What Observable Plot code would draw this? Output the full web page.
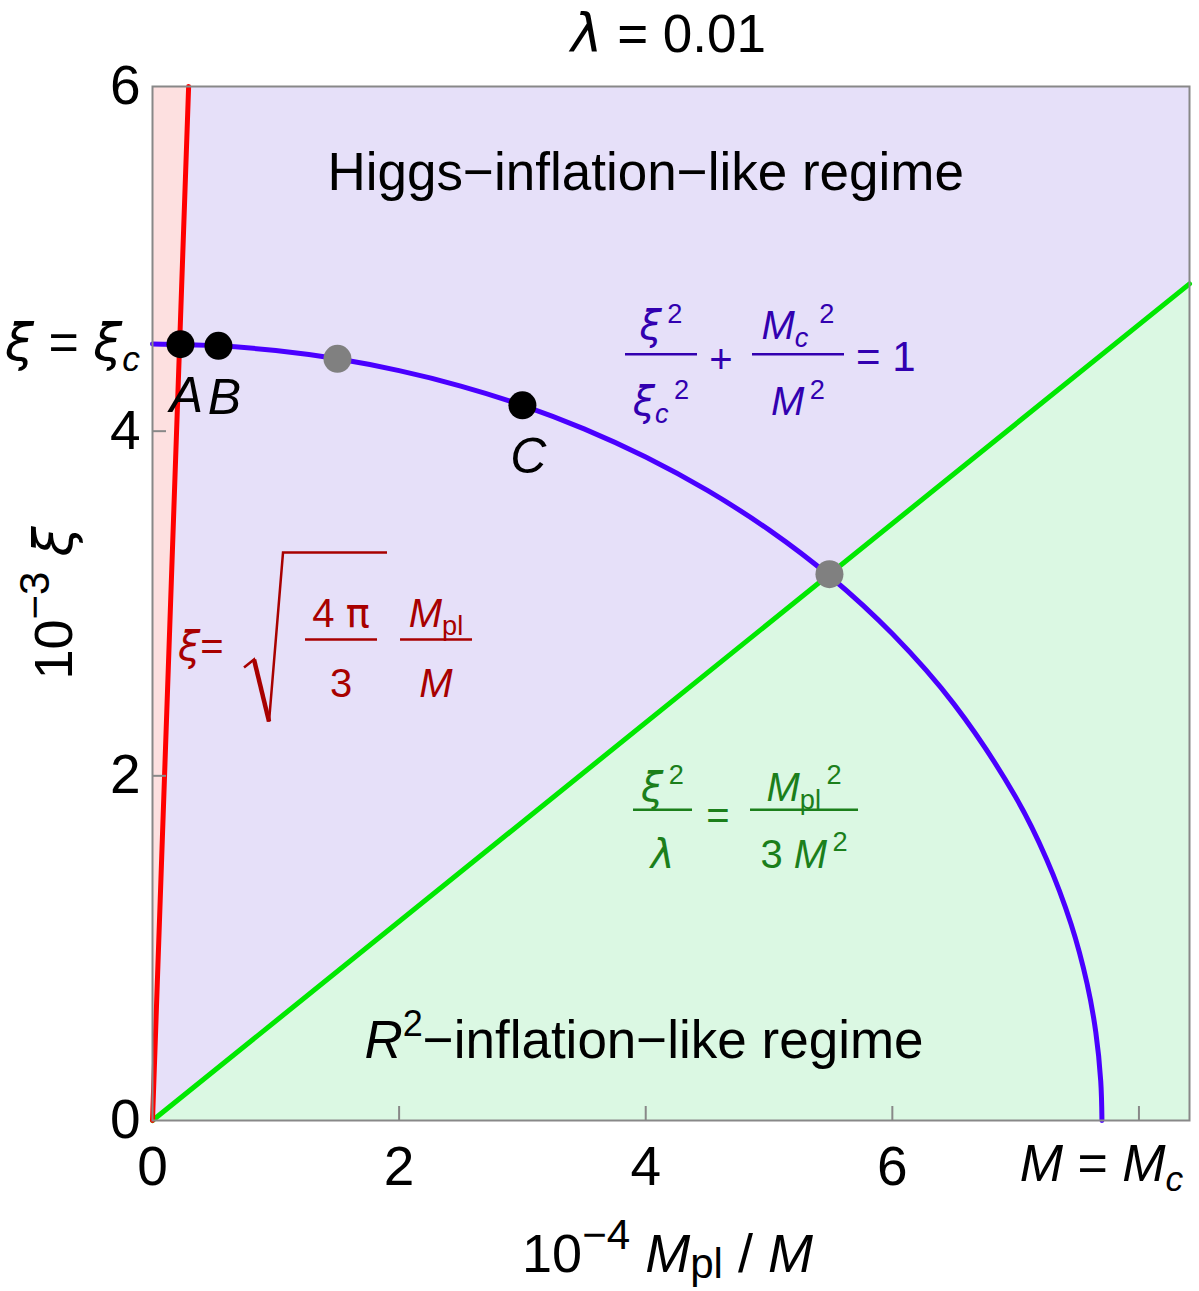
<!DOCTYPE html>
<html>
<head>
<meta charset="utf-8">
<script src="https://cdn.jsdelivr.net/npm/d3@7"></script>
<script src="https://cdn.jsdelivr.net/npm/@observablehq/plot@0.6"></script>
<style>
  body { margin: 0; background: #fff; }
  svg { display: block; }
  text { white-space: pre; }
</style>
</head>
<body>
<div id="chart"></div>
<script>
// ---- data (x: 10^-4 Mpl/M, y: 10^-3 ξ) ----
const lambda = 0.01;
const xMax = 8.41, yMax = 6;
const xTickLabels = [0, 2, 4, 6];
const xTickMarks = [2, 4, 6, 8];
const yTickLabels = [0, 2, 4, 6];
const yTickMarks = [2, 4];

const xiC = 4.506;   // ξ = ξc
const xC = 7.70;     // M = Mc

// ξ = sqrt(4π/3) Mpl/M
const redLine = [{x: 0, y: 0}, {x: 0.293, y: 6}];
// ξ²/λ = Mpl²/(3M²)
const greenLine = [{x: 0, y: 0}, {x: 8.41, y: 4.855}];
// ξ²/ξc² + Mc²/M² = 1
const blueCurve = [
  {x: 0, y: 4.506}, {x: 0.5, y: 4.4965}, {x: 1, y: 4.468}, {x: 1.5, y: 4.4197},
  {x: 2, y: 4.351}, {x: 2.5, y: 4.2619}, {x: 3, y: 4.150}, {x: 3.5, y: 4.0136},
  {x: 4, y: 3.850}, {x: 4.5, y: 3.656}, {x: 5, y: 3.427}, {x: 5.5, y: 3.154},
  {x: 6, y: 2.824}, {x: 6.5, y: 2.416}, {x: 7, y: 1.877}, {x: 7.25, y: 1.5178},
  {x: 7.45, y: 1.1389}, {x: 7.58, y: 0.7924}, {x: 7.65, y: 0.513},
  {x: 7.69, y: 0.2296}, {x: 7.7, y: 0}
];
const blackPoints = [
  {x: 0.227, y: 4.505, label: "A"},
  {x: 0.535, y: 4.495, label: "B"},
  {x: 3.0, y: 4.150, label: "C"}
];
const grayPoints = [{x: 1.5, y: 4.42}, {x: 5.49, y: 3.17}];

// annotation anchors, in data units
const higgsLabelAt = {x: 4.0, y: 5.40};
const r2LabelAt = {x: 3.99, y: 0.36};
const eqBlueAt = {x: 3.836, y: 4.443};
const eqGreenAt = {x: 3.901, y: 1.801};
const eqRedAt = {x: 0.211, y: 2.788};

// ---- styles ----
const FONT = "'Liberation Sans', Arial, Helvetica, sans-serif";
const GREEK = "'DejaVu Sans', 'Liberation Sans', sans-serif";
const C = {
  pink: "#fde0e0", lavender: "#e6e0f9", mint: "#dbf8e3",
  red: "#ff0000", green: "#00e800", blue: "#4a00ff",
  redText: "#a80000", blueText: "#3200b0", greenText: "#1b7f1b",
  frame: "#888888", gray: "#808080"
};

const plot = Plot.plot({
  width: 1199,
  height: 1291,
  marginLeft: 152,
  marginRight: 10,
  marginTop: 86,
  marginBottom: 171,
  x: {domain: [0, xMax]},
  y: {domain: [0, yMax]},
  style: {fontFamily: FONT, background: "white", overflow: "visible", color: "black"},
  marks: [
    Plot.frame({fill: C.lavender}),
    Plot.areaY(greenLine, {x: "x", y: "y", fill: C.mint}),
    Plot.areaX(redLine, {x: "x", y: "y", fill: C.pink}),
    Plot.line(greenLine, {x: "x", y: "y", stroke: C.green, strokeWidth: 5}),
    Plot.line(blueCurve, {x: "x", y: "y", stroke: C.blue, strokeWidth: 5, curve: "catmull-rom"}),
    Plot.line(redLine, {x: "x", y: "y", stroke: C.red, strokeWidth: 5}),
    Plot.dot(grayPoints, {x: "x", y: "y", r: 14, fill: C.gray}),
    Plot.dot(blackPoints, {x: "x", y: "y", r: 14, fill: "black"}),
    Plot.text(blackPoints, {x: "x", y: "y", text: "label", dx: 6, dy: 68, lineAnchor: "bottom",
      fontSize: 50, fontStyle: "italic", fill: "black"}),
    Plot.frame({stroke: C.frame, strokeWidth: 2}),
    Plot.axisX(xTickMarks, {tickSize: -14, tickFormat: () => "", stroke: C.frame, strokeWidth: 2, label: null}),
    Plot.axisY(yTickMarks, {tickSize: -14, tickFormat: () => "", stroke: C.frame, strokeWidth: 2, label: null}),
    Plot.axisX(xTickLabels, {tickSize: 0, tickPadding: 25, fontSize: 55, fill: "black", label: null,
      tickFormat: d => `${d}`}),
    Plot.axisY(yTickLabels, {tickSize: 0, tickPadding: 12, fontSize: 55, fill: "black", label: null,
      tickFormat: d => `${d}`}),
    Plot.text([higgsLabelAt], {x: "x", y: "y", text: () => "Higgs\u2212inflation\u2212like regime",
      lineAnchor: "bottom", fontSize: 53, fill: "black"})
  ]
});

document.getElementById("chart").appendChild(plot);

// ---- math-style annotations placed through the plot's scales ----
const X = plot.scale("x"), Y = plot.scale("y");
const px = v => X.apply(v), py = v => Y.apply(v);
const svg = d3.select(plot);
const g = svg.append("g").attr("font-family", FONT);

// parts: [text, fmt] where fmt may hold "i" (italic), "^" (superscript),
// "_" (subscript), "g" (Greek face)
function rich(sel, x, y, parts, {size, anchor = "start", fill = "black", rotate = 0,
                                  supScale = 0.68, subShift = 0.2} = {}) {
  const t = sel.append("text")
    .attr("x", x).attr("y", y)
    .attr("font-size", size)
    .attr("fill", fill)
    .attr("text-anchor", anchor);
  if (rotate) t.attr("transform", `rotate(${rotate},${x},${y})`);
  let shift = 0;
  for (const [str, fmt = ""] of parts) {
    const target = fmt.includes("^") ? -0.42 * size : fmt.includes("_") ? subShift * size : 0;
    const s = t.append("tspan").text(str).attr("dy", target - shift);
    shift = target;
    if (target) s.attr("font-size", supScale * size);
    if (fmt.includes("i")) s.attr("font-style", "italic");
    if (fmt.includes("g")) s.attr("font-family", GREEK);
  }
  return t;
}

function frac(sel, cx, barY, w, num, den, {size, fill, numOff, denOff}) {
  sel.append("line")
    .attr("x1", cx - w / 2).attr("x2", cx + w / 2)
    .attr("y1", barY).attr("y2", barY)
    .attr("stroke", fill).attr("stroke-width", 2.5);
  rich(sel, cx, barY - numOff, num, {size, anchor: "middle", fill});
  rich(sel, cx, barY + denOff, den, {size, anchor: "middle", fill});
}

const frameLeft = X.range[0], frameRight = X.range[1];
const frameTop = Y.range[1], frameBottom = Y.range[0];
const midX = (frameLeft + frameRight) / 2, midY = (frameTop + frameBottom) / 2;

// title
rich(g, midX - 2, frameTop - 34, [["λ", "ig"], [" = 0.01"]], {size: 53, anchor: "middle"});

// axis titles
rich(g, midX - 3, frameBottom + 152,
  [["10"], ["\u22124", "^"], [" "], ["M", "i"], ["pl", "_"], [" / "], ["M", "i"]],
  {size: 54, anchor: "middle", supScale: 0.78, subShift: 0.12});
rich(g, frameLeft - 80, midY, [["10"], ["\u22123", "^"], [" "], ["ξ", "ig"]],
  {size: 54, anchor: "middle", rotate: -90, supScale: 0.78});

// special tick labels
rich(g, frameLeft - 12, py(xiC) + 17, [["ξ", "ig"], [" = "], ["ξ", "ig"], ["c", "i_"]],
  {size: 52, anchor: "end"});
rich(g, px(xC), frameBottom + 61, [["M", "i"], [" = "], ["M", "i"], ["c", "i_"]],
  {size: 52, anchor: "middle"});

// R² regime label
rich(g, px(r2LabelAt.x), py(r2LabelAt.y),
  [["R", "i"], ["2", "^"], ["\u2212inflation\u2212like regime"]],
  {size: 53, anchor: "middle"});

// blue: ξ²/ξc² + Mc²/M² = 1
{
  const ax = px(eqBlueAt.x), ay = py(eqBlueAt.y);
  const o = {size: 40, fill: C.blueText, numOff: 15, denOff: 61};
  frac(g, ax + 36, ay, 72, [["ξ", "ig"], ["\u20092", "^"]],
    [["ξ", "ig"], ["c", "i_"], ["\u20092", "^"]], o);
  rich(g, ax + 96, ay + 19, [["+"]], {size: 40, anchor: "middle", fill: C.blueText});
  frac(g, ax + 173, ay, 92, [["M", "i"], ["c", "i_"], ["\u2009\u20092", "^"]],
    [["M", "i"], ["\u20092", "^"]], o);
  rich(g, ax + 231, ay + 17, [["= 1"]], {size: 42, fill: C.blueText});
}

// green: ξ²/λ = Mpl²/(3M²)
{
  const ax = px(eqGreenAt.x), ay = py(eqGreenAt.y);
  const o = {size: 40, fill: C.greenText, numOff: 9, denOff: 58};
  frac(g, ax + 29.5, ay, 59, [["ξ", "ig"], ["\u20092", "^"]], [["λ", "ig"]], o);
  rich(g, ax + 85, ay + 19, [["="]], {size: 40, anchor: "middle", fill: C.greenText});
  frac(g, ax + 171, ay, 108, [["M", "i"], ["pl", "_"], ["\u20092", "^"]],
    [["3 "], ["M", "i"], ["\u20092", "^"]], o);
}

// red: ξ = sqrt(4π/3 · Mpl/M)
{
  const ax = px(eqRedAt.x), ay = py(eqRedAt.y);
  const o = {size: 40, fill: C.redText, numOff: 13, denOff: 57};
  rich(g, ax, ay + 20, [["ξ", "ig"], ["="]], {size: 40, fill: C.redText});
  g.append("path")
    .attr("d", `M${ax + 66},${ay + 28} L${ax + 76},${ay + 20} L${ax + 91},${ay + 82} L${ax + 105},${ay - 87} L${ax + 209},${ay - 87}`)
    .attr("fill", "none").attr("stroke", C.redText).attr("stroke-width", 2.5)
    .attr("stroke-linejoin", "miter");
  g.append("path")
    .attr("d", `M${ax + 76},${ay + 20} L${ax + 91},${ay + 82}`)
    .attr("stroke", C.redText).attr("stroke-width", 4.5);
  frac(g, ax + 163, ay, 72, [["4 "], ["π", "g"]], [["3"]], o);
  frac(g, ax + 258, ay, 72, [["M", "i"], ["pl", "_"]], [["M", "i"]], o);
}
</script>
</body>
</html>
